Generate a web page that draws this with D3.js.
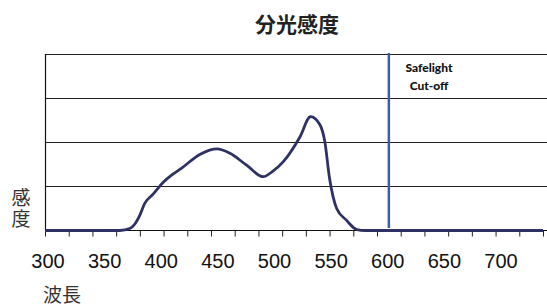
<!DOCTYPE html>
<html>
<head>
<meta charset="utf-8">
<script src="https://cdn.jsdelivr.net/npm/d3@7"></script>
<style>
  html, body { margin: 0; padding: 0; background: #fff; }
  svg { display: block; }
</style>
</head>
<body>
<div id="chart"></div>
<script>
// 分光感度のデータ (波長 nm, 相対感度)
var wavelengths = [300, 363, 372, 375, 380, 384, 391, 400, 407, 415, 431, 445, 456, 470, 484, 492, 501, 515, 524, 532, 536, 540, 546, 554, 563, 570, 720];
var sensitivity = [0, 0, 0.05, 0.12, 0.35, 0.61, 0.82, 1.1, 1.26, 1.41, 1.73, 1.85, 1.75, 1.48, 1.22, 1.34, 1.56, 2.12, 2.58, 2.39, 2.01, 1.18, 0.5, 0.24, 0.02, 0, 0];

// 軸の目盛りラベル
var tickLabels = ['300', '350', '400', '450', '500', '550', '600', '650', '700'];
var gridValues = [1, 2, 3, 4];

// セーフライトのカットオフ波長
var cutoff = 590;
var cutoffLabel = ['Safelight', 'Cut-off'];

var width = 547;
var height = 307;

var svg = d3.select('#chart').append('svg')
  .attr('width', width)
  .attr('height', height);

// x: 目盛りは 20nm ごと
var x = d3.scaleLinear().domain([300, 720]).range([45, 543]);
var y = d3.scaleLinear().domain([0, 4]).range([230.5, 54]);

// ラベルは目盛りと独立して並んでいる
var labelScale = d3.scalePoint().domain(tickLabels).range([48, 501]);

// タイトル
svg.append('text')
  .attr('x', 297).attr('y', 32)
  .attr('text-anchor', 'middle')
  .style('font-family', '"Noto Sans CJK JP", sans-serif')
  .style('font-weight', 'bold')
  .style('font-size', '21px')
  .style('fill', '#222')
  .text('分光感度');

// 横のグリッド線
svg.append('g').selectAll('line').data(gridValues).enter()
  .append('line')
  .attr('x1', 45).attr('x2', width)
  .attr('y1', function(d) { return Math.round(y(d)) + 0.5; })
  .attr('y2', function(d) { return Math.round(y(d)) + 0.5; })
  .style('stroke', '#222')
  .style('stroke-width', 1);

// 左の縦線
svg.append('line')
  .attr('x1', 45.5).attr('x2', 45.5)
  .attr('y1', y(4)).attr('y2', y(0))
  .style('stroke', '#111')
  .style('stroke-width', 1.2);

// x軸 (目盛りのみ)
var xAxis = d3.axisBottom(x)
  .tickValues(d3.range(300, 721, 20))
  .tickSize(6)
  .tickSizeOuter(0)
  .tickFormat('');

var axisG = svg.append('g')
  .attr('transform', 'translate(0,' + y(0) + ')')
  .call(xAxis);
axisG.select('.domain').attr('d', 'M45,0H' + width).style('stroke', '#111').style('stroke-width', 1.2);
axisG.selectAll('.tick line').style('stroke', '#222');

// x軸ラベル
svg.append('g').selectAll('text').data(tickLabels).enter()
  .append('text')
  .attr('x', function(d) { return labelScale(d); })
  .attr('y', 268)
  .attr('text-anchor', 'middle')
  .style('font-family', '"Liberation Sans", Arial, sans-serif')
  .style('font-size', '20px')
  .style('fill', '#111')
  .text(function(d) { return d; });

// 軸タイトル
svg.append('text')
  .attr('x', 43).attr('y', 302)
  .style('font-family', '"Noto Sans CJK JP", sans-serif')
  .style('font-size', '19px')
  .style('fill', '#333')
  .text('波長');

// 縦書きの「感度」
svg.append('text')
  .attr('x', 21).attr('y', 188)
  .style('writing-mode', 'vertical-rl')
  .style('font-family', '"Noto Sans CJK JP", sans-serif')
  .style('font-size', '19px')
  .style('letter-spacing', '2px')
  .style('fill', '#333')
  .text('感度');

// カットオフ線
svg.append('line')
  .attr('x1', x(cutoff)).attr('x2', x(cutoff))
  .attr('y1', 53).attr('y2', 228)
  .style('stroke', '#3a5da6')
  .style('stroke-width', 2.5);

svg.append('g').selectAll('text').data(cutoffLabel).enter()
  .append('text')
  .attr('x', 429)
  .attr('y', function(d, i) { return 72 + i * 17.5; })
  .attr('text-anchor', 'middle')
  .style('font-family', 'Lato, sans-serif')
  .style('font-weight', '900')
  .style('font-size', '12px')
  .style('fill', '#111')
  .text(function(d) { return d; });

// 感度曲線
var points = wavelengths.map(function(w, i) { return [w, sensitivity[i]]; });
var line = d3.line()
  .x(function(d) { return x(d[0]); })
  .y(function(d) { return y(d[1]); })
  .curve(d3.curveMonotoneX);

svg.append('path')
  .datum(points)
  .attr('d', line)
  .style('fill', 'none')
  .style('stroke', '#2e3163')
  .style('stroke-width', 2.8)
  .style('stroke-linejoin', 'round');
</script>
</body>
</html>
